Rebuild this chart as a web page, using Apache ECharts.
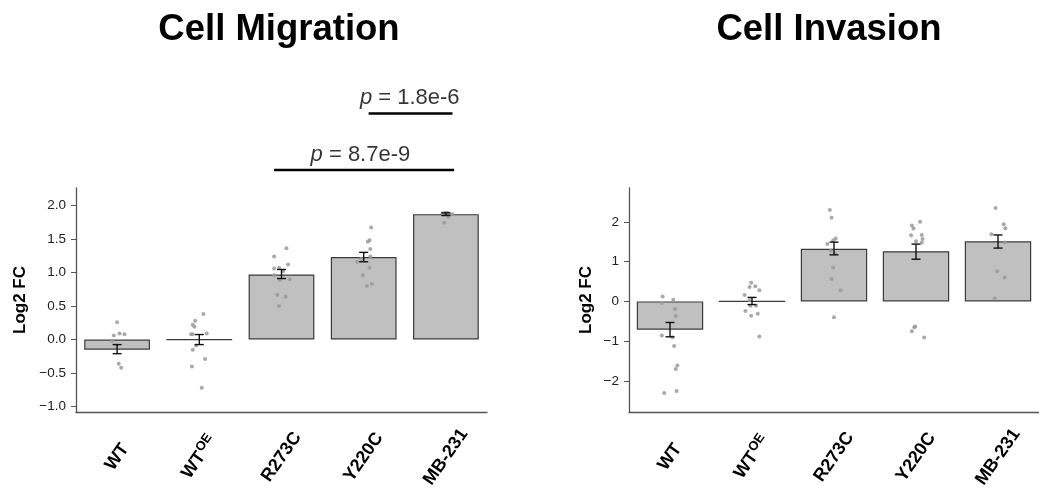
<!DOCTYPE html>
<html>
<head>
<meta charset="utf-8">
<script src="https://cdn.jsdelivr.net/npm/echarts@6/dist/echarts.min.js"></script>
<style>
  html, body { margin: 0; padding: 0; background: #fff; }
  #chart { width: 1039px; height: 495px; }
</style>
</head>
<body>
<div id="chart"></div>
<script>
// categories on the x axis
const categories = ['WT', 'WTOE', 'R273C', 'Y220C', 'MB-231'];

// Cell Migration: bar means, error bar limits, individual points [x, y]
const migMeans = [-0.15, 0.0, 0.97, 1.23, 1.87];
const migErrLow = [-0.21, -0.075, 0.91, 1.16, 1.85];
const migErrHigh = [-0.075, 0.075, 1.045, 1.30, 1.89];
const migPoints = [
  [0.00, 0.26], [0.03, 0.09], [0.09, 0.08], [-0.04, 0.06], [-0.06, -0.02], [-0.01, -0.08], [0.02, -0.36], [0.05, -0.42],
  [1.05, 0.38], [0.95, 0.28], [0.92, 0.22], [0.94, 0.19], [0.90, 0.08], [0.92, 0.08], [1.09, 0.09], [0.96, -0.09],
  [0.92, -0.15], [1.07, -0.29], [0.91, -0.40], [1.03, -0.72],
  [2.06, 1.36], [1.91, 1.24], [2.08, 1.12], [1.91, 1.06], [1.97, 1.07], [2.02, 1.02], [1.91, 0.96], [1.98, 0.89],
  [2.10, 0.90], [1.95, 0.67], [2.05, 0.64], [1.97, 0.50],
  [3.09, 1.67], [3.07, 1.48], [3.05, 1.46], [3.08, 1.35], [3.08, 1.24], [2.92, 1.16], [2.97, 1.20], [3.07, 1.07],
  [2.99, 0.96], [3.10, 0.83], [3.04, 0.80],
  [3.96, 1.88], [3.99, 1.89], [4.02, 1.89], [4.05, 1.87], [4.08, 1.87], [4.03, 1.83], [3.98, 1.74]
];
const migTicks = [-1, -0.5, 0, 0.5, 1, 1.5, 2];

// significance brackets on the migration panel
const sigPValues = ['8.7e-9', '1.8e-6'];
const sigFrom = [1.91, 3.06];
const sigTo = [4.10, 4.08];
const sigLevel = [2.53, 3.37];
const sigTextX = [2.96, 3.56];
const sigTextY = [2.76, 3.61];

// Cell Invasion
const invMeans = [-0.71, 0.0, 1.32, 1.26, 1.51];
const invErrLow = [-0.89, -0.08, 1.17, 1.06, 1.34];
const invErrHigh = [-0.53, 0.10, 1.49, 1.44, 1.67];
const invPoints = [
  [-0.09, 0.12], [0.04, 0.04], [-0.10, -0.04], [0.06, -0.19], [0.07, -0.37], [-0.10, -0.86], [0.03, -0.90],
  [0.05, -1.12], [0.09, -1.61], [0.07, -1.70], [-0.07, -2.30], [0.08, -2.25],
  [0.99, 0.47], [0.97, 0.36], [1.04, 0.38], [1.09, 0.28], [0.91, 0.16], [0.97, 0.03], [1.05, -0.11],
  [0.98, -0.11], [0.92, -0.24], [0.99, -0.36], [1.07, -0.31], [1.09, -0.88],
  [1.95, 2.30], [1.97, 2.10], [2.02, 1.58], [1.99, 1.53], [1.92, 1.44], [1.96, 1.28], [2.01, 1.21],
  [1.99, 0.85], [1.97, 0.56], [2.08, 0.28], [2.00, -0.40],
  [3.05, 2.00], [2.95, 1.91], [2.97, 1.83], [3.07, 1.67], [2.94, 1.66], [3.08, 1.57], [3.00, 1.51],
  [3.07, 1.48], [2.99, -0.63], [2.98, -0.65], [2.95, -0.75], [3.10, -0.91],
  [3.97, 2.35], [4.07, 1.94], [4.09, 1.84], [3.92, 1.69], [4.08, 1.48], [3.99, 0.76], [4.08, 0.60], [3.96, 0.07]
];
const invTicks = [-2, -1, 0, 1, 2];

const FONT = '"Liberation Sans", Arial, Helvetica, sans-serif';
const AXIS_COLOR = '#555';
const minus = s => String(s).replace('-', '\u2212');

const chart = echarts.init(document.getElementById('chart'), null, { renderer: 'canvas' });

// error bars: vertical line with caps
const errorBar = (params, api) => {
  const x = api.value(0);
  const lo = api.coord([x, api.value(1)]);
  const hi = api.coord([x, api.value(2)]);
  const cap = 4.5;
  const style = { stroke: '#111', lineWidth: 1.4 };
  return {
    type: 'group',
    children: [
      { type: 'line', shape: { x1: lo[0], y1: lo[1], x2: hi[0], y2: hi[1] }, style },
      { type: 'line', shape: { x1: lo[0] - cap, y1: lo[1], x2: lo[0] + cap, y2: lo[1] }, style },
      { type: 'line', shape: { x1: hi[0] - cap, y1: hi[1], x2: hi[0] + cap, y2: hi[1] }, style }
    ]
  };
};

const catLabel = {
  rotate: 55,
  align: 'center',
  verticalAlign: 'middle',
  margin: 45,
  fontFamily: FONT,
  fontSize: 18,
  fontWeight: 'bold',
  color: '#000',
  formatter: v => v === 'WTOE' ? '{a|WT}{b|OE}' : '{a|' + v + '}',
  rich: {
    a: { fontFamily: FONT, fontSize: 18, fontWeight: 'bold', color: '#000' },
    b: { fontFamily: FONT, fontSize: 13, fontWeight: 'bold', color: '#000', verticalAlign: 'top', padding: [0, 0, 9, 1] }
  }
};

const makeX = gridIndex => ([
  {
    type: 'category', gridIndex, data: categories,
    axisLine: { show: true, onZero: false, lineStyle: { color: AXIS_COLOR, width: 1.3 } },
    axisTick: { show: false },
    axisLabel: catLabel
  },
  { type: 'value', gridIndex, min: -0.5, max: 4.5, show: false }
]);

const makeY = (gridIndex, min, max, ticks, digits, nameGap) => ({
  type: 'value', gridIndex, min, max,
  name: 'Log2 FC', nameLocation: 'middle', nameRotate: 90, nameGap,
  nameTextStyle: { fontFamily: FONT, fontSize: 17, fontWeight: 'bold', color: '#000' },
  axisLine: { show: true, onZero: false, lineStyle: { color: AXIS_COLOR, width: 1.3 } },
  axisTick: { show: true, length: 5, customValues: ticks, lineStyle: { color: AXIS_COLOR } },
  axisLabel: {
    customValues: ticks, margin: 10, fontFamily: FONT, fontSize: 13.5, color: '#222',
    formatter: v => minus(Number(v).toFixed(digits))
  },
  splitLine: { show: false }
});

const barSeries = (xi, yi, data, width) => ({
  type: 'bar', xAxisIndex: xi, yAxisIndex: yi, data, barWidth: width,
  itemStyle: { color: '#c0c0c0', borderColor: '#3a3a3a', borderWidth: 1.2 },
  silent: true, z: 2
});

const pointSeries = (xi, yi, data) => ({
  type: 'scatter', xAxisIndex: xi, yAxisIndex: yi, data, symbolSize: 4,
  itemStyle: { color: '#9a9a9a', opacity: 0.85 }, silent: true, z: 3
});

const errSeries = (xi, yi, lows, highs) => ({
  type: 'custom', xAxisIndex: xi, yAxisIndex: yi,
  data: lows.map((lo, i) => [i, lo, highs[i]]),
  renderItem: errorBar, silent: true, z: 4
});

const sigSeries = [];
sigPValues.forEach((p, i) => {
  sigSeries.push({
    type: 'line', xAxisIndex: 1, yAxisIndex: 0, clip: false, silent: true,
    data: [[sigFrom[i], sigLevel[i]], [sigTo[i], sigLevel[i]]],
    symbol: 'none', lineStyle: { color: '#000', width: 2.5 }
  });
  sigSeries.push({
    type: 'scatter', xAxisIndex: 1, yAxisIndex: 0, clip: false, silent: true,
    data: [[sigTextX[i], sigTextY[i]]], symbolSize: 0,
    label: {
      show: true, position: 'inside', formatter: '{i|p} = ' + p,
      fontFamily: FONT, fontSize: 22, color: '#000',
      rich: { i: { fontFamily: FONT, fontSize: 22, fontStyle: 'italic', color: '#000' } }
    }
  });
});

const option = {
  animation: false,
  backgroundColor: '#fff',
  title: [
    { text: 'Cell Migration', left: 279, top: 11, textAlign: 'center', padding: 0,
      textStyle: { fontFamily: FONT, fontSize: 36.5, fontWeight: 'bold', color: '#000' } },
    { text: 'Cell Invasion', left: 829, top: 11, textAlign: 'center', padding: 0,
      textStyle: { fontFamily: FONT, fontSize: 36.5, fontWeight: 'bold', color: '#000' } }
  ],
  grid: [
    { left: 76, top: 188, width: 411, height: 224 },
    { left: 629, top: 188, width: 420, height: 224 }
  ],
  xAxis: [...makeX(0), ...makeX(1)],
  yAxis: [
    makeY(0, -1.08, 2.26, migTicks, 1, 47),
    makeY(1, -2.78, 2.85, invTicks, 0, 34)
  ],
  series: [
    barSeries(0, 0, migMeans, '80%'),
    pointSeries(1, 0, migPoints),
    errSeries(1, 0, migErrLow, migErrHigh),
    ...sigSeries,
    barSeries(2, 1, invMeans, '81%'),
    pointSeries(3, 1, invPoints),
    errSeries(3, 1, invErrLow, invErrHigh)
  ]
};

chart.setOption(option);
</script>
</body>
</html>
